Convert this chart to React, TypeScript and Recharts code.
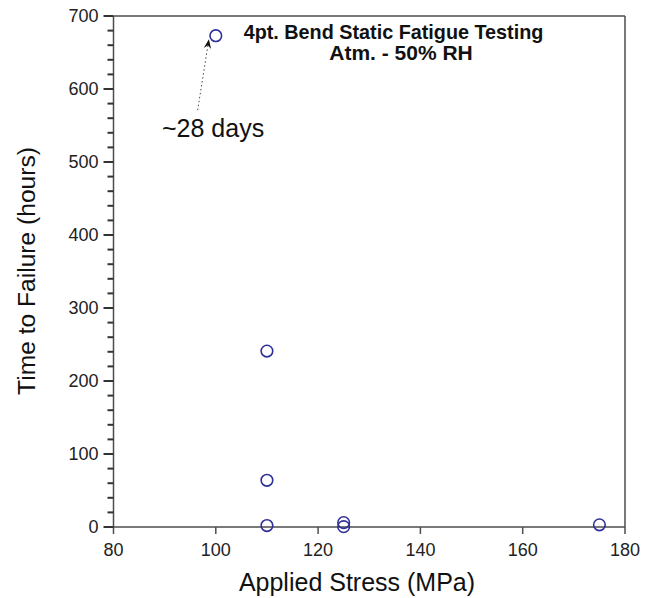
import React from "react";
import {
  ScatterChart,
  Scatter,
  XAxis,
  YAxis,
  ReferenceLine,
  Customized,
} from "recharts";

// applied stress (MPa) and time to failure (hours)
const stress = [100, 110, 110, 110, 125, 125, 175];
const hours = [673, 241, 64, 2, 6, 0.5, 3];

const xTicks = [80, 100, 120, 140, 160, 180];
const yTicks = [0, 20, 40, 60, 80, 100, 120, 140, 160, 180, 200, 220, 240, 260, 280, 300, 320, 340, 360, 380, 400, 420, 440, 460, 480, 500, 520, 540, 560, 580, 600, 620, 640, 660, 680, 700];

// annotation arrow (data coords): from the label up to the ~28 day point
const arrowFrom = { x: 96.45, y: 571 };
const arrowTo = { x: 98.65, y: 668 };

const points = stress.map((s, i) => ({ stress: s, hours: hours[i] }));

const FONT = "'Liberation Sans', Arial, sans-serif";
const AXIS = "#4d4d4d";
const MARK = "#2f2f99";

// minor ticks every 20, labelled major ticks every 100
function renderYTick(props: any) {
  const x = Number(props.x);
  const y = Number(props.y);
  const v = props.payload.value;
  const major = v % 100 === 0;
  const len = major ? 10 : 6;
  return (
    <g key={`yt-${v}`}>
      <path d={`M${x - len},${y}H${x}`} stroke="#333333" strokeWidth={2} fill="none" />
      <text
        x={x - 15}
        y={y}
        dy="0.36em"
        textAnchor="end"
        fontSize={18}
        fontFamily={FONT}
        fill="#222"
        stroke="none"
      >
        {major ? v : ""}
      </text>
    </g>
  );
}

function Ring(props: any) {
  return <circle cx={props.cx} cy={props.cy} r={5.8} fill="#fff" fillOpacity={0} stroke={MARK} strokeWidth={1.6} />;
}

function Arrow(props: any) {
  const { x1, y1, x2, y2 } = props;
  const ang = Math.atan2(y2 - y1, x2 - x1);
  const L = 10;
  const w = 0.38;
  const p1 = [x2 - L * Math.cos(ang - w), y2 - L * Math.sin(ang - w)];
  const p2 = [x2 - L * Math.cos(ang + w), y2 - L * Math.sin(ang + w)];
  const back = [x2 - 6 * Math.cos(ang), y2 - 6 * Math.sin(ang)];
  return (
    <g>
      <line x1={x1} y1={y1} x2={back[0]} y2={back[1]} stroke="#444" strokeWidth={1} strokeDasharray="1.5 2.5" />
      <path d={`M${x2},${y2} L${p1[0]},${p1[1]} L${back[0]},${back[1]} L${p2[0]},${p2[1]} Z`} fill="#111" />
    </g>
  );
}

function Texts() {
  return (
    <g fontFamily={FONT} fill="#111">
      <text x={393.5} y={39} textAnchor="middle" fontSize={19.8} fontWeight="bold">
        4pt. Bend Static Fatigue Testing
      </text>
      <text x={401} y={60} textAnchor="middle" fontSize={21} fontWeight="bold">
        Atm. - 50% RH
      </text>
      <text x={162} y={137} fontSize={25}>
        ~28 days
      </text>
      <text x={357} y={591} textAnchor="middle" fontSize={25}>
        Applied Stress (MPa)
      </text>
      <text x={35} y={271} textAnchor="middle" fontSize={24.6} transform="rotate(-90, 35, 271)">
        Time to Failure (hours)
      </text>
    </g>
  );
}

export default function App() {
  return (
    <div style={{ position: "absolute", left: 0, top: 0, width: 646, height: 598, background: "#fff" }}>
      <ScatterChart width={646} height={598} margin={{ top: 16, right: 21, left: 0, bottom: 0 }}>
        <XAxis
          type="number"
          dataKey="stress"
          domain={[80, 180]}
          ticks={xTicks}
          interval={0}
          height={71}
          stroke={AXIS}
          strokeWidth={1.5}
          tickSize={7}
          tickMargin={9}
          tick={{ fontSize: 18, fontFamily: FONT, fill: "#222" }}
        />
        <YAxis
          type="number"
          dataKey="hours"
          domain={[0, 700]}
          ticks={yTicks}
          interval={0}
          width={113.5}
          stroke={AXIS}
          strokeWidth={1.5}
          tickLine={false}
          tickSize={0}
          tickMargin={0}
          tick={renderYTick}
        />
        <ReferenceLine y={700} stroke={AXIS} strokeWidth={1.5} ifOverflow="visible" />
        <ReferenceLine x={180} stroke={AXIS} strokeWidth={1.5} ifOverflow="visible" />
        <ReferenceLine
          segment={[arrowFrom, arrowTo]}
          ifOverflow="visible"
          shape={(p: any) => <Arrow {...p} />}
        />
        <Scatter data={points} shape={<Ring />} isAnimationActive={false} />
        <Customized component={Texts} />
      </ScatterChart>
    </div>
  );
}
